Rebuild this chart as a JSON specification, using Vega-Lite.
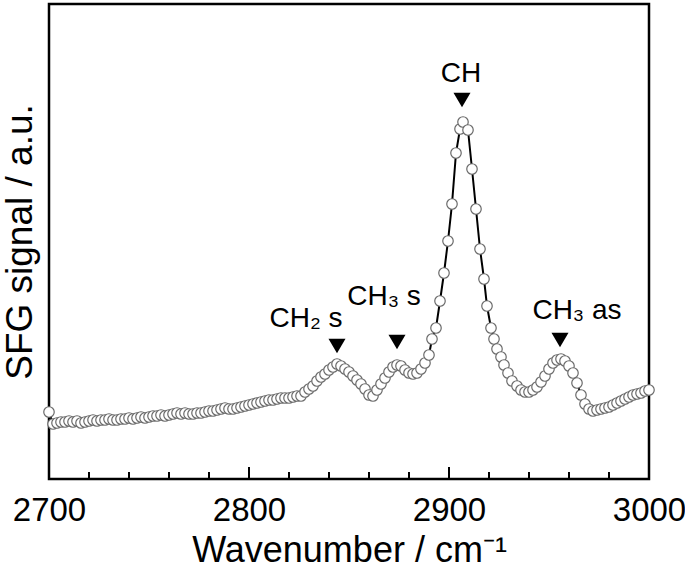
{
  "$schema": "https://vega.github.io/schema/vega-lite/v6.json",
  "width": 600,
  "height": 475,
  "autosize": {"type": "none"},
  "padding": {"left": 49, "top": 4, "right": 36, "bottom": 89},
  "config": {
    "view": {"stroke": "black", "strokeWidth": 2.5},
    "font": "Liberation Sans",
    "axis": {"labelFont": "Liberation Sans", "titleFont": "Liberation Sans", "labelColor": "black", "titleColor": "black", "titleFontWeight": "normal", "grid": false}
  },
  "datasets": {
    "spectrum": [
      {"wavenumber": 2700, "signal": 67}, {"wavenumber": 2702, "signal": 55}, {"wavenumber": 2704, "signal": 56}, {"wavenumber": 2706, "signal": 57},
      {"wavenumber": 2708, "signal": 57}, {"wavenumber": 2710, "signal": 58}, {"wavenumber": 2712, "signal": 57}, {"wavenumber": 2714, "signal": 58},
      {"wavenumber": 2716, "signal": 56}, {"wavenumber": 2718, "signal": 57}, {"wavenumber": 2720, "signal": 58}, {"wavenumber": 2722, "signal": 59},
      {"wavenumber": 2724, "signal": 58}, {"wavenumber": 2726, "signal": 59}, {"wavenumber": 2728, "signal": 59}, {"wavenumber": 2730, "signal": 60},
      {"wavenumber": 2732, "signal": 59}, {"wavenumber": 2734, "signal": 59}, {"wavenumber": 2736, "signal": 60}, {"wavenumber": 2738, "signal": 60},
      {"wavenumber": 2740, "signal": 61}, {"wavenumber": 2742, "signal": 60}, {"wavenumber": 2744, "signal": 61}, {"wavenumber": 2746, "signal": 62},
      {"wavenumber": 2748, "signal": 61}, {"wavenumber": 2750, "signal": 62}, {"wavenumber": 2752, "signal": 63}, {"wavenumber": 2754, "signal": 63},
      {"wavenumber": 2756, "signal": 64}, {"wavenumber": 2758, "signal": 63}, {"wavenumber": 2760, "signal": 64}, {"wavenumber": 2762, "signal": 65},
      {"wavenumber": 2764, "signal": 66}, {"wavenumber": 2766, "signal": 65}, {"wavenumber": 2768, "signal": 66}, {"wavenumber": 2770, "signal": 65},
      {"wavenumber": 2772, "signal": 65}, {"wavenumber": 2774, "signal": 66}, {"wavenumber": 2776, "signal": 66}, {"wavenumber": 2778, "signal": 67},
      {"wavenumber": 2780, "signal": 68}, {"wavenumber": 2782, "signal": 68}, {"wavenumber": 2784, "signal": 69}, {"wavenumber": 2786, "signal": 70},
      {"wavenumber": 2788, "signal": 71}, {"wavenumber": 2790, "signal": 70}, {"wavenumber": 2792, "signal": 70}, {"wavenumber": 2794, "signal": 71},
      {"wavenumber": 2796, "signal": 72}, {"wavenumber": 2798, "signal": 73}, {"wavenumber": 2800, "signal": 74}, {"wavenumber": 2802, "signal": 75},
      {"wavenumber": 2804, "signal": 76}, {"wavenumber": 2806, "signal": 77}, {"wavenumber": 2808, "signal": 78}, {"wavenumber": 2810, "signal": 79},
      {"wavenumber": 2812, "signal": 79}, {"wavenumber": 2814, "signal": 80}, {"wavenumber": 2816, "signal": 81}, {"wavenumber": 2818, "signal": 81},
      {"wavenumber": 2820, "signal": 81}, {"wavenumber": 2822, "signal": 82}, {"wavenumber": 2824, "signal": 83}, {"wavenumber": 2826, "signal": 83},
      {"wavenumber": 2828, "signal": 87}, {"wavenumber": 2830, "signal": 90}, {"wavenumber": 2832, "signal": 93}, {"wavenumber": 2834, "signal": 98},
      {"wavenumber": 2836, "signal": 102}, {"wavenumber": 2838, "signal": 105}, {"wavenumber": 2840, "signal": 109}, {"wavenumber": 2842, "signal": 112},
      {"wavenumber": 2844, "signal": 115}, {"wavenumber": 2846, "signal": 113}, {"wavenumber": 2848, "signal": 110}, {"wavenumber": 2850, "signal": 107},
      {"wavenumber": 2852, "signal": 103}, {"wavenumber": 2854, "signal": 99}, {"wavenumber": 2856, "signal": 95}, {"wavenumber": 2858, "signal": 90},
      {"wavenumber": 2860, "signal": 84}, {"wavenumber": 2862, "signal": 83}, {"wavenumber": 2864, "signal": 89}, {"wavenumber": 2866, "signal": 95},
      {"wavenumber": 2868, "signal": 101}, {"wavenumber": 2870, "signal": 107}, {"wavenumber": 2872, "signal": 112}, {"wavenumber": 2874, "signal": 114},
      {"wavenumber": 2876, "signal": 113}, {"wavenumber": 2878, "signal": 109}, {"wavenumber": 2880, "signal": 106}, {"wavenumber": 2882, "signal": 105},
      {"wavenumber": 2884, "signal": 106}, {"wavenumber": 2886, "signal": 110}, {"wavenumber": 2888, "signal": 116}, {"wavenumber": 2890, "signal": 124},
      {"wavenumber": 2891.5, "signal": 140}, {"wavenumber": 2893.5, "signal": 151}, {"wavenumber": 2895.5, "signal": 178}, {"wavenumber": 2897.5, "signal": 206},
      {"wavenumber": 2899.5, "signal": 238}, {"wavenumber": 2901.5, "signal": 275}, {"wavenumber": 2903.5, "signal": 326}, {"wavenumber": 2905.5, "signal": 350},
      {"wavenumber": 2907, "signal": 357}, {"wavenumber": 2909.5, "signal": 349}, {"wavenumber": 2911.5, "signal": 310}, {"wavenumber": 2913.5, "signal": 270},
      {"wavenumber": 2915.5, "signal": 230}, {"wavenumber": 2917.5, "signal": 200}, {"wavenumber": 2919, "signal": 173}, {"wavenumber": 2921, "signal": 151},
      {"wavenumber": 2922.5, "signal": 140}, {"wavenumber": 2924, "signal": 130}, {"wavenumber": 2926, "signal": 122}, {"wavenumber": 2927.5, "signal": 114},
      {"wavenumber": 2929.5, "signal": 106}, {"wavenumber": 2931.5, "signal": 98}, {"wavenumber": 2934, "signal": 93}, {"wavenumber": 2936, "signal": 89},
      {"wavenumber": 2938, "signal": 87}, {"wavenumber": 2940, "signal": 87}, {"wavenumber": 2942, "signal": 89}, {"wavenumber": 2944, "signal": 92},
      {"wavenumber": 2946, "signal": 97}, {"wavenumber": 2948, "signal": 103}, {"wavenumber": 2950, "signal": 110}, {"wavenumber": 2952, "signal": 116},
      {"wavenumber": 2954, "signal": 119}, {"wavenumber": 2956, "signal": 120}, {"wavenumber": 2958, "signal": 118}, {"wavenumber": 2960, "signal": 113},
      {"wavenumber": 2962, "signal": 106}, {"wavenumber": 2964, "signal": 96}, {"wavenumber": 2966, "signal": 84}, {"wavenumber": 2968, "signal": 75},
      {"wavenumber": 2970, "signal": 70}, {"wavenumber": 2972, "signal": 68}, {"wavenumber": 2974, "signal": 69}, {"wavenumber": 2976, "signal": 70},
      {"wavenumber": 2978, "signal": 71}, {"wavenumber": 2980, "signal": 72}, {"wavenumber": 2982, "signal": 74}, {"wavenumber": 2984, "signal": 76},
      {"wavenumber": 2986, "signal": 78}, {"wavenumber": 2988, "signal": 80}, {"wavenumber": 2990, "signal": 82}, {"wavenumber": 2992, "signal": 84},
      {"wavenumber": 2994, "signal": 85}, {"wavenumber": 2996, "signal": 86}, {"wavenumber": 2998, "signal": 88}, {"wavenumber": 3000, "signal": 89}
    ],
    "markers": [
      {"wavenumber": 2906.5, "signal": 379},
      {"wavenumber": 2844, "signal": 133},
      {"wavenumber": 2874, "signal": 137},
      {"wavenumber": 2955.5, "signal": 139}
    ],
    "labels": [
      {"wavenumber": 2906, "signal": 397, "label": "CH"},
      {"wavenumber": 2828.5, "signal": 152, "label": "CH₂ s"},
      {"wavenumber": 2867.5, "signal": 174, "label": "CH₃ s"},
      {"wavenumber": 2964, "signal": 160, "label": "CH₃ as"}
    ],
    "majorTicks": [
      {"wavenumber": 2800}, {"wavenumber": 2900}
    ],
    "minorTicks": [
      {"wavenumber": 2720}, {"wavenumber": 2740}, {"wavenumber": 2760}, {"wavenumber": 2780},
      {"wavenumber": 2820}, {"wavenumber": 2840}, {"wavenumber": 2860}, {"wavenumber": 2880},
      {"wavenumber": 2920}, {"wavenumber": 2940}, {"wavenumber": 2960}, {"wavenumber": 2980}
    ]
  },
  "layer": [
    {
      "data": {"name": "spectrum"},
      "mark": {"type": "line", "color": "black", "strokeWidth": 2},
      "encoding": {
        "x": {"field": "wavenumber", "type": "quantitative",
          "scale": {"domain": [2700, 3000], "nice": false, "zero": false},
          "axis": {"values": [2700, 2800, 2900, 3000], "format": "d", "ticks": false,
            "labelFontSize": 33, "labelPadding": 15, "labelFlush": false, "domain": false,
            "title": "Wavenumber / cm⁻¹", "titleFontSize": 36, "titlePadding": 6}},
        "y": {"field": "signal", "type": "quantitative",
          "scale": {"domain": [0, 475], "nice": false, "zero": false},
          "axis": {"title": "SFG signal / a.u.", "labels": false, "ticks": false, "domain": false,
            "titleFontSize": 37, "titlePadding": 10}}
      }
    },
    {
      "data": {"name": "spectrum"},
      "mark": {"type": "point", "shape": "circle", "filled": true, "fill": "white", "stroke": "#6a6a6a", "strokeWidth": 1.2, "size": 110, "opacity": 1},
      "encoding": {
        "x": {"field": "wavenumber", "type": "quantitative"},
        "y": {"field": "signal", "type": "quantitative"}
      }
    },
    {
      "data": {"name": "majorTicks"},
      "mark": {"type": "tick", "orient": "vertical", "size": 12, "thickness": 2, "color": "black", "opacity": 1, "yOffset": -6},
      "encoding": {
        "x": {"field": "wavenumber", "type": "quantitative"},
        "y": {"datum": 0, "type": "quantitative"}
      }
    },
    {
      "data": {"name": "minorTicks"},
      "mark": {"type": "tick", "orient": "vertical", "size": 7, "thickness": 2, "color": "black", "opacity": 1, "yOffset": -3.5},
      "encoding": {
        "x": {"field": "wavenumber", "type": "quantitative"},
        "y": {"datum": 0, "type": "quantitative"}
      }
    },
    {
      "data": {"name": "markers"},
      "mark": {"type": "point", "shape": "triangle-down", "filled": true, "color": "black", "size": 290, "opacity": 1},
      "encoding": {
        "x": {"field": "wavenumber", "type": "quantitative"},
        "y": {"field": "signal", "type": "quantitative"}
      }
    },
    {
      "data": {"name": "labels"},
      "mark": {"type": "text", "fontSize": 28, "align": "center", "baseline": "alphabetic", "color": "black", "font": "Liberation Sans"},
      "encoding": {
        "x": {"field": "wavenumber", "type": "quantitative"},
        "y": {"field": "signal", "type": "quantitative"},
        "text": {"field": "label"}
      }
    }
  ]
}
